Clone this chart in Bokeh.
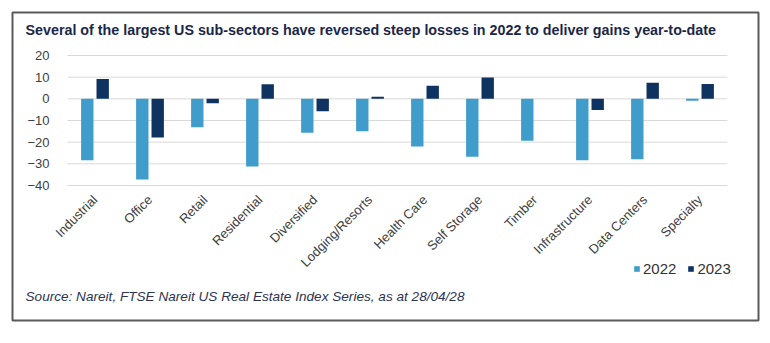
from bokeh.plotting import figure
from bokeh.models import (Legend, LegendItem, FixedTicker, Range1d, LinearAxis,
                          ColumnDataSource, Label)
from bokeh.transform import dodge
from bokeh.embed import file_html
from bokeh.resources import INLINE
import math

categories = ["Industrial", "Office", "Retail", "Residential", "Diversified",
              "Lodging/Resorts", "Health Care", "Self Storage", "Timber",
              "Infrastructure", "Data Centers", "Specialty"]
values_2022 = [-28.4, -37.2, -13.1, -31.2, -15.6, -15.0, -22.0, -26.7, -19.3, -28.4, -27.9, -0.9]
values_2023 = [9.1, -17.9, -2.0, 6.7, -5.7, 1.0, 6.0, 9.9, 0.0, -5.2, 7.4, 6.8]
y_ticks = [20, 10, 0, -10, -20, -30, -40]
series_names = ["2022", "2023"]

title_text = "Several of the largest US sub-sectors have reversed steep losses in 2022 to deliver gains year-to-date"
source_text = "Source: Nareit, FTSE Nareit US Real Estate Index Series, as at 28/04/28"

C2022 = "#3f9ccb"
C2023 = "#0f3361"

# ---- layout (canvas pixels) ----
W, H = 770, 343
BOX_L, BOX_R, BOX_T, BOX_B = 12, 758, 12, 320      # frame == bordered box
PL, PR, PT, PB = 67, 727, 55, 185                   # plot area inside the box
n = len(categories)
ymin, ymax = min(y_ticks), max(y_ticks)
px_x = (PR - PL) / n
px_y = (PB - PT) / (ymax - ymin)
x_start = -(PL - BOX_L) / px_x
x_end = n + (BOX_R - PR) / px_x
y_start = ymin - (BOX_B - PB) / px_y
y_end = ymax + (PT - BOX_T) / px_y

xpos = [i + 0.5 for i in range(n)]
src = ColumnDataSource(dict(x=xpos, cat=categories, v22=values_2022, v23=values_2023))

p = figure(width=W, height=H, x_range=Range1d(x_start, x_end), y_range=Range1d(y_start, y_end),
           x_axis_type=None, y_axis_type=None, output_backend="svg", toolbar_location=None,
           min_border_left=BOX_L, min_border_right=W - BOX_R, min_border_top=BOX_T,
           min_border_bottom=H - BOX_B)
p.outline_line_color = "#5a5a5a"
p.outline_line_width = 2
p.background_fill_color = "white"
p.border_fill_color = "white"
p.grid.visible = False

# horizontal gridlines at the tick values across the category area
p.segment(x0=0, x1=n, y0=y_ticks, y1=y_ticks, line_color="#d9d9d9", line_width=1)

r22 = p.vbar(x=dodge("x", -0.14), top="v22", width=0.225, source=src,
             fill_color=C2022, line_color=None)
r23 = p.vbar(x=dodge("x", 0.14), top="v23", width=0.225, source=src,
             fill_color=C2023, line_color=None)

yax = LinearAxis(fixed_location=0, ticker=FixedTicker(ticks=y_ticks))
xax = LinearAxis(fixed_location=ymin, ticker=FixedTicker(ticks=xpos),
                 major_label_overrides={x: c for x, c in zip(xpos, categories)})
for ax in (xax, yax):
    ax.axis_line_color = None
    ax.major_tick_line_color = None
    ax.minor_tick_line_color = None
    ax.major_label_text_font = "Liberation Sans"
    ax.major_label_text_color = "#404040"
    ax.major_label_text_font_size = "13px"
yax.major_label_standoff = 12
xax.major_label_orientation = math.pi / 4
xax.major_label_standoff = 6
p.add_layout(yax, "left")
p.add_layout(xax, "below")

p.add_layout(Label(x=25 - BOX_L, y=BOX_B - 29, x_units="screen", y_units="screen",
                   text=title_text, text_font="Liberation Sans", text_font_style="bold",
                   text_font_size="14.3px", text_color="#1b2748", text_baseline="middle"))
p.add_layout(Label(x=25 - BOX_L, y=BOX_B - 296, x_units="screen", y_units="screen",
                   text=source_text, text_font="Liberation Sans", text_font_style="italic",
                   text_font_size="13.6px", text_color="#2e3350", text_baseline="middle"))

legend = Legend(items=[LegendItem(label=series_names[0], renderers=[r22]),
                       LegendItem(label=series_names[1], renderers=[r23])],
                orientation="horizontal", location=(633 - BOX_L, BOX_B - 277),
                background_fill_alpha=0, border_line_color=None,
                label_text_font="Liberation Sans", label_text_font_size="15px",
                label_text_color="#333333", glyph_width=7, glyph_height=7,
                label_height=16, label_standoff=3, spacing=11, padding=0, margin=0)
p.add_layout(legend, "center")

open("out.html", "w").write(file_html(p, INLINE))
